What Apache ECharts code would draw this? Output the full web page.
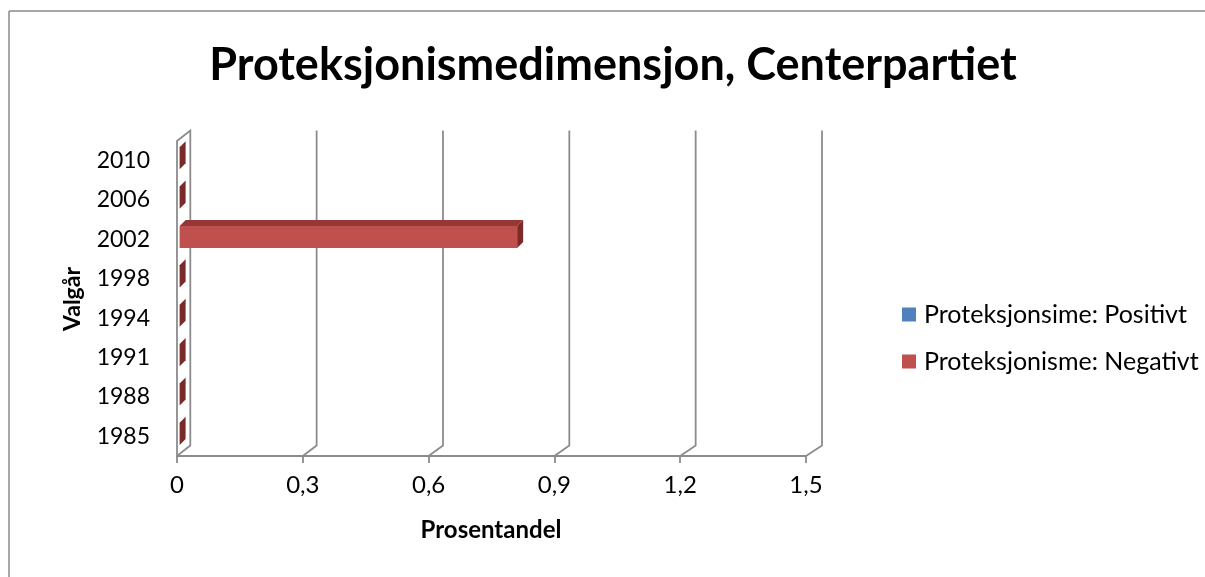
<!DOCTYPE html>
<html>
<head>
<meta charset="utf-8">
<script src="https://cdn.jsdelivr.net/npm/echarts@6/dist/echarts.min.js"></script>
<style>
html,body{margin:0;padding:0;background:#fff;overflow:hidden;}
#chart{width:1205px;height:577px;}
</style>
</head>
<body>
<div id="chart"></div>
<script>
// ---- data ----
const years = ['1985', '1988', '1991', '1994', '1998', '2002', '2006', '2010'];
const positiveVals = [null, null, null, null, null, null, null, null];
const negativeVals = [0, 0, 0, 0, 0, 0.805, 0, 0];
const xTicks = [0, 0.3, 0.6, 0.9, 1.2, 1.5];
const titleText = 'Proteksjonismedimensjon, Centerpartiet';
const seriesNames = ['Proteksjonsime: Positivt', 'Proteksjonisme: Negativt'];
const xName = 'Prosentandel';
const yName = 'Valgår';

// ---- styling ----
const FONT = 'Lato, "Open Sans", sans-serif';
const GRID_COLOR = '#8c8c8c';
const DEPTH_Y = 10.5;
const barFront = '#C0504D', barTop = '#953735', barSide = '#7A2A28';
const blue = '#4F81BD';

const chart = echarts.init(document.getElementById('chart'));

function depthDx(v) { return 13.3 + 2.7 * (v / 1.5); }

function gridRender(params, api) {
  const v = api.value(0);
  const cs = params.coordSys;
  const p = api.coord([v, 0]);
  const x = p[0];
  const yb = cs.y + cs.height;
  const yt = cs.y;
  const dx = depthDx(v);
  const style = { stroke: GRID_COLOR, lineWidth: 1.8, fill: null };
  if (v === 0) {
    return {
      type: 'polygon',
      shape: { points: [[x, yb], [x, yt], [x + dx, yt - DEPTH_Y], [x + dx, yb - DEPTH_Y]] },
      style: style
    };
  }
  return {
    type: 'polyline',
    shape: { points: [[x, yb], [x + dx, yb - DEPTH_Y], [x + dx, yt - DEPTH_Y]] },
    style: style
  };
}

function barRender(params, api) {
  const val = api.value(0);
  const cat = api.value(1);
  if (val == null || isNaN(val)) return null;
  const s = api.coord([0, cat]);
  const e = api.coord([val, cat]);
  const band = api.size([0, 1])[1];
  const off = 2.6;
  const d = 6;
  const x0 = s[0] + off, x1 = e[0] + off;
  const top = s[1] - band / 2 + 6.2;
  const h = band * 0.56;
  const bot = top + h;
  const children = [];
  if (x1 > x0) {
    children.push({ type: 'rect', shape: { x: x0, y: top, width: x1 - x0, height: h }, style: { fill: barFront } });
    children.push({ type: 'polygon', shape: { points: [[x0, top], [x0 + d, top - d], [x1 + d, top - d], [x1, top]] }, style: { fill: barTop } });
  }
  children.push({ type: 'polygon', shape: { points: [[x1, top], [x1 + d, top - d], [x1 + d, bot - d], [x1, bot]] }, style: { fill: barSide } });
  return { type: 'group', children: children };
}

const option = {
  animation: false,
  backgroundColor: '#fff',
  grid: { left: 177, right: 399, top: 141, bottom: 121, containLabel: false },
  xAxis: {
    type: 'value', min: 0, max: 1.5, interval: 0.3,
    axisLine: { show: true, lineStyle: { color: GRID_COLOR, width: 1.8 } },
    axisTick: { show: true, length: 7, lineStyle: { color: GRID_COLOR, width: 1.8 } },
    splitLine: { show: false },
    axisLabel: {
      margin: 17, color: '#000', fontFamily: FONT, fontSize: 24,
      formatter: function (v) { return String(Math.round(v * 10) / 10).replace('.', ','); }
    }
  },
  yAxis: {
    type: 'category', data: years,
    axisLine: { show: false }, axisTick: { show: false }, splitLine: { show: false },
    axisLabel: { margin: 27, color: '#000', fontFamily: FONT, fontSize: 23 }
  },
  legend: {
    orient: 'vertical', left: 897, top: 296,
    itemWidth: 14, itemHeight: 14, itemGap: 20,
    icon: 'rect',
    textStyle: { fontFamily: FONT, fontSize: 25, color: '#000', lineHeight: 27, padding: [0, 0, 0, 3] },
    data: seriesNames
  },
  series: [
    {
      type: 'custom', name: '_grid', silent: true, z: 1,
      renderItem: gridRender,
      data: xTicks.map(function (t) { return [t, 0]; }),
      encode: { x: 0, y: 1 }
    },
    {
      type: 'custom', name: seriesNames[0], z: 3,
      itemStyle: { color: blue },
      renderItem: barRender,
      data: positiveVals.map(function (v, i) { return [v, i]; }),
      encode: { x: 0, y: 1 }
    },
    {
      type: 'custom', name: seriesNames[1], z: 3,
      itemStyle: { color: barFront },
      renderItem: barRender,
      data: negativeVals.map(function (v, i) { return [v, i]; }),
      encode: { x: 0, y: 1 }
    }
  ],
  graphic: [
    { type: 'line', silent: true, shape: { x1: 9, y1: 11, x2: 1300, y2: 11 }, style: { stroke: '#8a8a8a', lineWidth: 1.5 } },
    { type: 'line', silent: true, shape: { x1: 9, y1: 11, x2: 9, y2: 700 }, style: { stroke: '#8a8a8a', lineWidth: 1.5 } },
    { type: 'text', x: 613, y: 65, style: { text: titleText, font: 'bold 45px ' + FONT, fill: '#000', align: 'center', verticalAlign: 'middle' } },
    { type: 'text', x: 491, y: 530, style: { text: xName, font: 'bold 24px ' + FONT, fill: '#000', align: 'center', verticalAlign: 'middle' } },
    { type: 'text', x: 73, y: 299, rotation: Math.PI / 2, style: { text: yName, font: 'bold 23px ' + FONT, fill: '#000', align: 'center', verticalAlign: 'middle' } }
  ]
};
chart.setOption(option);
</script>
</body>
</html>
